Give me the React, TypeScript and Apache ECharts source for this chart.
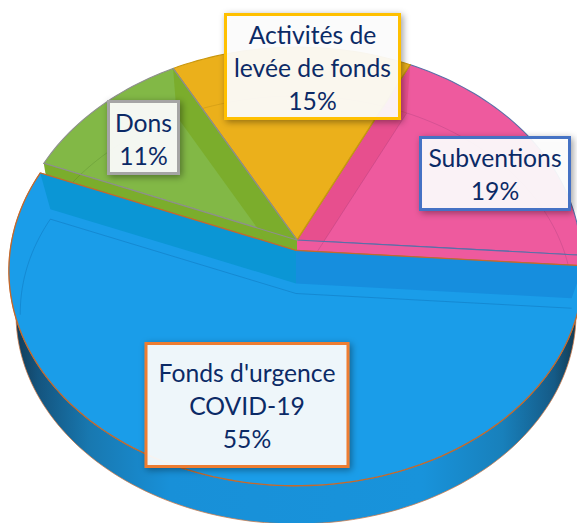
import React, { useEffect, useRef } from "react";
import * as echarts from "echarts";

// ---- data ----
const categories = ["Fonds d'urgence\nCOVID-19", "Dons", "Activités de\nlevée de fonds", "Subventions"];
const shares = [55, 11, 15, 19];
const exploded = [1, 0, 0, 0];

// ---- styles ----
const faceColors = ["#1A9DE9", "#82B846", "#EBB01B", "#EE5A9E"];
const edgeColors = ["#C4692C", "#8E8E8E", "#C9970F", "#5A6FA8"];
const startWallColors = ["#168EDE", "#7BAD2C", "#E0A515", "#E74F8E"];
const endWallColors = ["#0B96D5", "#7BAD2C", "#E0A515", "#EE5A9E"];
const floorColors = ["rgba(0,70,130,0.22)", "rgba(40,80,20,0.16)", "rgba(120,90,0,0.16)", "rgba(90,40,90,0.16)"];
const boxColors = ["#ED7D31", "#A5A5A5", "#FFC000", "#4472C4"];
const boxes = [
  { x: 146, y: 343.5, w: 202, h: 123, cy: 405 },
  { x: 108.5, y: 101.5, w: 70, h: 72, cy: 138.5 },
  { x: 225.5, y: 14.5, w: 174, h: 104, cy: 67 },
  { x: 420.5, y: 137.5, w: 149, h: 72, cy: 174 },
];

// ---- projection of the tilted pie ----
const W = 577, H = 523;
const APEX = [297, 240];
const A = 283, B = 211, K = 0.0941;
const START_DEG = 4.1;
const EXPLODE = [-1, 10.5];
const EXPLODE_SCALE = 1.01;
const SIDE = 44;
const SIDE_SCALE = 0.985;
const FLOOR_SCALE = 0.97;
const FLOOR_ARC = 28;
const total = shares.reduce((s, v) => s + v, 0);

const rim = (deg: number) => {
  const r = (deg * Math.PI) / 180;
  const w = 1 - K * Math.sin(r);
  return [(A * Math.cos(r)) / w, (B * Math.sin(r)) / w];
};
const arc = (a: number, b: number, f: (p: number[]) => number[]) => {
  const out: number[][] = [];
  const n = Math.max(2, Math.ceil(Math.abs(b - a) / 1.5));
  for (let i = 0; i <= n; i++) out.push(f(rim(a + ((b - a) * i) / n)));
  return out;
};

let acc = START_DEG;
const slices = shares.map((v, i) => {
  const start = acc;
  acc += (v / total) * 360;
  return { name: categories[i], value: [v, start, acc, exploded[i], i] };
});

function renderSlice(_: any, api: any) {
  const start = api.value(1), end = api.value(2), isExp = api.value(3) === 1, i = api.value(4);
  const ax = APEX[0] + (isExp ? EXPLODE[0] : 0);
  const ay = APEX[1] + (isExp ? EXPLODE[1] : 0);
  const s = isExp ? EXPLODE_SCALE : 1;
  const top = (p: number[]) => [ax + p[0] * s, ay + p[1] * s];
  const floor = (d: number) => (p: number[]) => [ax + p[0] * FLOOR_SCALE, ay + d + p[1] * FLOOR_SCALE];
  const fullDepth = 43;
  const wallDepth = isExp ? 33 : fullDepth;
  const children: any[] = [];

  if (isExp) {
    const outer = arc(start - 4, end, top);
    const lower = arc(start - 4, end, (p) => [ax + p[0] * SIDE_SCALE, ay + SIDE + p[1] * SIDE_SCALE]);
    children.push({
      type: "polygon",
      shape: { points: outer.concat(lower.reverse()) },
      style: {
        fill: {
          type: "linear", x: 0, y: 0, x2: 1, y2: 0,
          colorStops: [
            { offset: 0, color: "#12344c" },
            { offset: 0.05, color: "#14547e" },
            { offset: 0.14, color: "#1878b0" },
            { offset: 0.28, color: "#1890d8" },
            { offset: 0.72, color: "#1893db" },
            { offset: 0.86, color: "#1880bb" },
            { offset: 0.95, color: "#155a86" },
            { offset: 1, color: "#12303f" },
          ],
        },
        stroke: "rgba(205,120,70,0.75)",
        lineWidth: 1,
      },
    });
  }

  const apexTop = [ax, ay];
  children.push({
    type: "polygon",
    shape: { points: [apexTop, ...arc(start, end, top)] },
    style: { fill: faceColors[i], stroke: edgeColors[i], lineWidth: isExp ? 1.3 : 1.1 },
  });

  // walls seen through the translucent slice
  const wall = (deg: number, color: string) => {
    const p = rim(deg);
    return {
      type: "polygon",
      shape: { points: [apexTop, top(p), floor(wallDepth)(p), [ax, ay + wallDepth]] },
      style: { fill: color },
    };
  };
  const rad = (d: number) => Math.cos((d * Math.PI) / 180);
  const prevExp = exploded[(i + shares.length - 1) % shares.length] === 1;
  const nextExp = exploded[(i + 1) % shares.length] === 1;
  if (rad(start) > 0 || prevExp) children.push(wall(start, startWallColors[i]));
  if (-rad(end) > 0 || nextExp) children.push(wall(end, endWallColors[i]));

  // faint floor outline: the exploded slice only shows its two ends
  const fl = floor(fullDepth);
  const floorPoints = isExp
    ? [...arc(end - FLOOR_ARC, end, fl), [ax, ay + fullDepth], fl(rim(start))]
    : [[ax, ay + fullDepth], ...arc(start, end, fl)];
  children.push({
    type: "polyline",
    shape: { points: floorPoints },
    style: { fill: "none", stroke: floorColors[i], lineWidth: 1 },
  });

  // re-stroke the slice's upper edges over its walls
  children.push({
    type: "polyline",
    shape: { points: [top(rim(start)), apexTop, top(rim(end))] },
    style: { fill: "none", stroke: edgeColors[i], lineWidth: 1.1 },
  });
  return { type: "group", children };
}

export default function App() {
  const ref = useRef<HTMLDivElement>(null);
  useEffect(() => {
    document.body.style.margin = "0";
    const chart = echarts.init(ref.current!, null, { renderer: "svg" });
    const labels: any[] = [];
    categories.forEach((c, i) => {
      const b = boxes[i];
      labels.push({
        type: "rect",
        z: 10,
        shape: { x: b.x, y: b.y, width: b.w, height: b.h },
        style: {
          fill: "rgba(255,255,255,0.91)",
          stroke: boxColors[i],
          lineWidth: 3,
          shadowBlur: 7,
          shadowOffsetX: 2,
          shadowOffsetY: 2,
          shadowColor: "rgba(0,0,0,0.4)",
        },
      });
      labels.push({
        type: "text",
        z: 11,
        x: b.x + b.w / 2,
        y: b.cy,
        style: {
          text: `${c}\n${shares[i]}%`,
          fill: "#0B2A66",
          fontFamily: "Lato",
          fontSize: 24.7,
          lineHeight: 33,
          align: "center",
          verticalAlign: "middle",
        },
      });
    });
    chart.setOption({
      animation: false,
      backgroundColor: "#ffffff",
      series: [
        {
          type: "custom",
          coordinateSystem: "none",
          silent: true,
          renderItem: renderSlice,
          data: [...slices].reverse(),
          z: 2,
        },
      ],
      graphic: { elements: labels },
    });
    return () => chart.dispose();
  }, []);
  return <div ref={ref} style={{ position: "absolute", left: 0, top: 0, width: W, height: H }} />;
}
